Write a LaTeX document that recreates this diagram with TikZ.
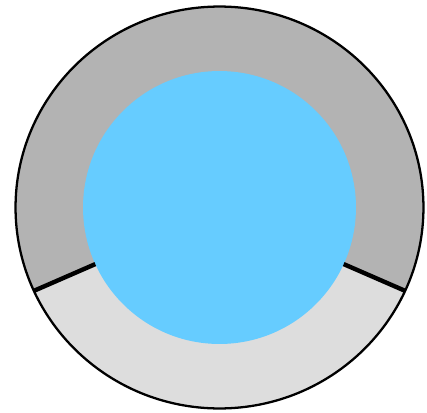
\documentclass[tikz,border=0pt]{standalone}
\usepackage{xcolor}
\usepackage{tikz}
\definecolor{ringdark}{RGB}{179,179,179}
\definecolor{ringlight}{RGB}{221,221,221}
\definecolor{core}{RGB}{102,204,255}

\begin{document}
\begin{tikzpicture}[
    x=0.02cm, y=-0.02cm,
    ring/.style={draw=black, line width=1.3pt},
    divider/.style={draw=black, line width=2.5pt},
    upper/.style={fill=ringdark},
    lower/.style={fill=ringlight},
    blue/.style={fill=core}
  ]
    \useasboundingbox (0,0) rectangle (427,413);
    \coordinate (c) at (219.5,207.5);

    % outer ring, dark part then light sector
    \fill[upper] (c) ellipse [x radius=4.08cm, y radius=4.02cm];
    \fill[lower] (c) -- ++(-24.5:4.08cm and 4.02cm)
      arc [start angle=-24.5, end angle=-155.5, x radius=4.08cm, y radius=4.02cm] -- cycle;

    % inner disc
    \fill[blue] (c) circle [radius=2.73cm];

    \path (c) ++(-24.5:2.73cm) coordinate (inR);
    \path (c) ++(-155.5:2.73cm) coordinate (inL);
    \path (c) ++(-24.5:4.08cm and 4.02cm) coordinate (outR);
    \path (c) ++(-155.5:4.08cm and 4.02cm) coordinate (outL);

    \draw[divider] (inL) -- (outL);
    \draw[divider] (inR) -- (outR);

    \draw[ring] (c) ellipse [x radius=4.08cm, y radius=4.02cm];
  \end{tikzpicture}
\end{document}
